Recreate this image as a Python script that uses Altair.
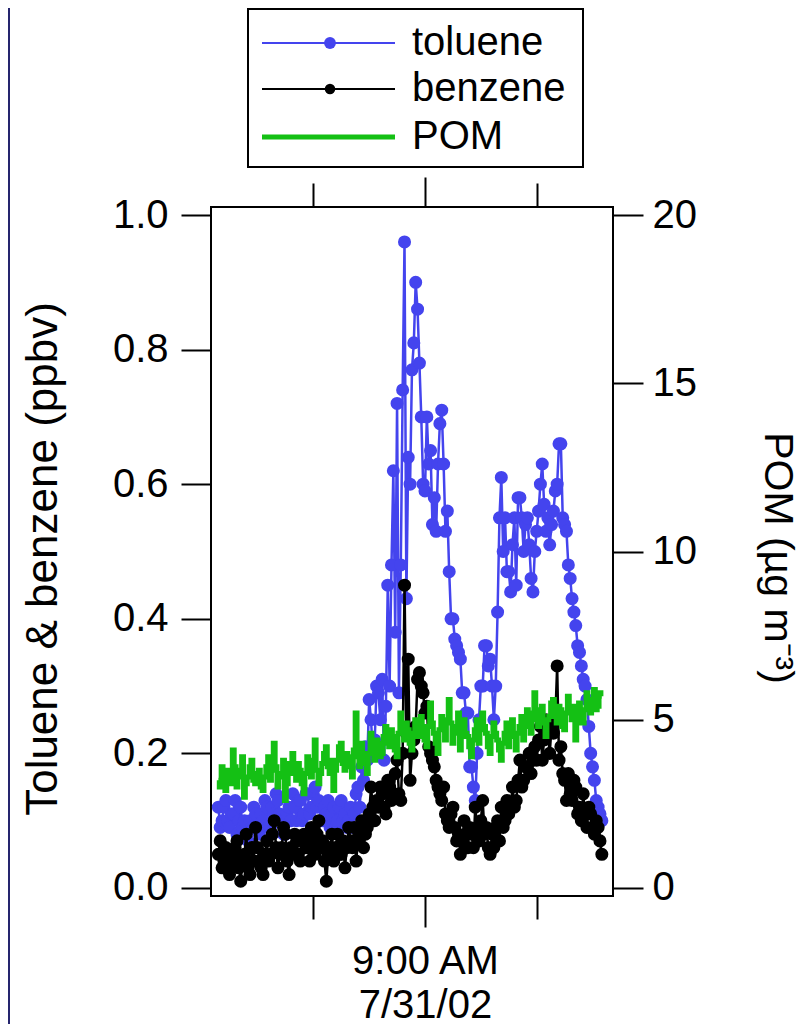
import altair as alt
import pandas as pd

# ---- data (minutes after 8:00 AM, 7/31/02), one reading every 30 s ----
start_min = 4.5
step_min = 0.5

toluene = [
    0.12, 0.09, 0.10, 0.12, 0.13, 0.10, 0.09, 0.11, 0.11, 0.13,
    0.08, 0.10, 0.12, 0.09, 0.10, 0.08, 0.07, 0.10, 0.09, 0.12,
    0.11, 0.09, 0.08, 0.11, 0.10, 0.13, 0.12, 0.09, 0.09, 0.12,
    0.11, 0.14, 0.13, 0.11, 0.10, 0.08, 0.08, 0.11, 0.12, 0.10,
    0.14, 0.12, 0.10, 0.13, 0.13, 0.10, 0.11, 0.14, 0.14, 0.11,
    0.12, 0.14, 0.15, 0.12, 0.13, 0.10, 0.10, 0.12, 0.11, 0.13,
    0.09, 0.11, 0.12, 0.09, 0.10, 0.12, 0.13, 0.10, 0.11, 0.09,
    0.10, 0.12, 0.09, 0.11, 0.14, 0.15, 0.12, 0.18, 0.16, 0.21,
    0.19, 0.28, 0.25, 0.20, 0.22, 0.30, 0.29, 0.25, 0.31, 0.19,
    0.27, 0.45, 0.30, 0.48, 0.62, 0.38, 0.72, 0.29, 0.48, 0.74,
    0.96, 0.43, 0.64, 0.60, 0.77, 0.81, 0.90, 0.86, 0.78, 0.70,
    0.60, 0.59, 0.70, 0.63, 0.65, 0.54, 0.58, 0.53, 0.63, 0.69,
    0.71, 0.63, 0.53, 0.56, 0.47, 0.40, 0.40, 0.37, 0.36, 0.35,
    0.34, 0.29, 0.29, 0.26, 0.26, 0.18, 0.18, 0.15, 0.13, 0.20,
    0.25, 0.30, 0.30, 0.36, 0.36, 0.33, 0.34, 0.30, 0.25, 0.30,
    0.41, 0.55, 0.61, 0.50, 0.55, 0.47, 0.47, 0.44, 0.51, 0.55,
    0.45, 0.58, 0.58, 0.55, 0.50, 0.54, 0.55, 0.51, 0.46, 0.44,
    0.50, 0.53, 0.56, 0.60, 0.63, 0.57, 0.53, 0.55, 0.51, 0.54,
    0.56, 0.59, 0.60, 0.66, 0.66, 0.55, 0.54, 0.53, 0.48, 0.46,
    0.43, 0.41, 0.39, 0.36, 0.35, 0.33, 0.31, 0.30, 0.28, 0.24,
    0.20, 0.18, 0.16, 0.13, 0.12, 0.11, 0.10,
]

benzene = [
    0.05, 0.07, 0.03, 0.04, 0.06, 0.03, 0.02, 0.05, 0.04, 0.06,
    0.07, 0.03, 0.01, 0.04, 0.05, 0.08, 0.03, 0.02, 0.06, 0.04,
    0.09, 0.06, 0.04, 0.03, 0.02, 0.05, 0.07, 0.04, 0.05, 0.08,
    0.10, 0.06, 0.03, 0.05, 0.06, 0.09, 0.08, 0.04, 0.02, 0.06,
    0.05, 0.08, 0.07, 0.05, 0.04, 0.07, 0.08, 0.06, 0.06, 0.04,
    0.09, 0.07, 0.05, 0.08, 0.10, 0.06, 0.07, 0.04, 0.01, 0.05,
    0.06, 0.08, 0.04, 0.06, 0.08, 0.05, 0.05, 0.07, 0.03, 0.06,
    0.09, 0.07, 0.06, 0.09, 0.04, 0.07, 0.08, 0.10, 0.06, 0.08,
    0.09, 0.11, 0.15, 0.12, 0.10, 0.13, 0.12, 0.15, 0.14, 0.12,
    0.11, 0.16, 0.15, 0.13, 0.14, 0.17, 0.19, 0.14, 0.13, 0.20,
    0.45, 0.23, 0.34, 0.16, 0.20, 0.22, 0.24, 0.31, 0.32, 0.30,
    0.29, 0.26, 0.27, 0.21, 0.20, 0.19, 0.18, 0.16, 0.15, 0.14,
    0.13, 0.15, 0.11, 0.10, 0.09, 0.11, 0.12, 0.09, 0.07, 0.08,
    0.05, 0.07, 0.10, 0.08, 0.06, 0.09, 0.08, 0.06, 0.12, 0.09,
    0.07, 0.10, 0.13, 0.08, 0.09, 0.06, 0.05, 0.08, 0.06, 0.09,
    0.10, 0.07, 0.12, 0.09, 0.10, 0.13, 0.11, 0.12, 0.15, 0.12,
    0.13, 0.16, 0.19, 0.15, 0.16, 0.18, 0.18, 0.20, 0.17, 0.19,
    0.21, 0.19, 0.22, 0.24, 0.19, 0.22, 0.25, 0.23, 0.20, 0.24,
    0.23, 0.25, 0.33, 0.19, 0.21, 0.17, 0.16, 0.13, 0.17, 0.14,
    0.13, 0.16, 0.15, 0.11, 0.12, 0.10, 0.14, 0.11, 0.09, 0.12,
    0.11, 0.09, 0.08, 0.10, 0.09, 0.07, 0.05,
]

pom = [
    3.2, 3.0, 3.6, 3.3, 2.9, 3.5, 3.4, 3.1, 4.1, 3.6,
    3.0, 3.3, 3.5, 3.9, 2.7, 3.1, 3.3, 3.6, 3.8, 3.2,
    3.1, 3.4, 3.5, 3.0, 2.9, 3.3, 3.6, 3.9, 3.2, 3.5,
    4.3, 3.6, 3.0, 3.3, 3.4, 3.8, 2.6, 3.1, 3.7, 3.4,
    4.0, 3.6, 3.2, 3.7, 3.5, 3.1, 2.8, 3.4, 3.9, 3.6,
    3.3, 3.8, 4.4, 3.5, 3.1, 3.4, 3.7, 4.0, 4.2, 3.6,
    3.4, 3.8, 2.9, 3.5, 3.8, 4.2, 4.3, 3.7, 3.5, 4.0,
    3.9, 3.6, 3.3, 4.1, 5.2, 3.9, 3.6, 4.3, 4.0, 3.7,
    3.4, 4.0, 4.6, 4.1, 3.8, 4.4, 4.3, 3.9, 4.0, 4.5,
    4.8, 4.3, 4.2, 4.7, 4.5, 4.1, 3.9, 4.6, 5.2, 4.7,
    4.4, 4.9, 4.7, 4.3, 4.1, 4.6, 5.0, 4.5, 4.5, 5.1,
    4.8, 4.4, 4.2, 4.8, 5.5, 4.9, 4.6, 4.3, 4.0, 4.7,
    5.1, 4.7, 4.4, 5.0, 5.6, 4.9, 4.3, 4.6, 4.8, 5.2,
    4.1, 4.5, 5.0, 4.6, 4.5, 4.2, 3.9, 4.4, 4.7, 5.0,
    4.3, 4.7, 5.2, 4.8, 4.6, 4.2, 4.0, 4.5, 4.9, 4.6,
    4.4, 4.1, 3.8, 4.3, 4.6, 4.9, 4.2, 4.7, 5.0, 4.5,
    4.1, 4.6, 4.8, 5.1, 4.4, 4.9, 5.3, 4.8, 4.6, 5.2,
    5.8, 5.0, 4.8, 5.3, 5.4, 4.9, 4.5, 5.0, 5.1, 5.5,
    5.6, 5.1, 4.9, 5.4, 5.3, 4.8, 4.7, 5.2, 5.7, 5.3,
    5.0, 5.4, 4.4, 4.9, 5.5, 5.1, 4.9, 5.3, 5.8, 5.4,
    5.2, 5.6, 5.9, 5.3, 5.4, 5.8, 5.7,
]

minutes = [start_min + i * step_min for i in range(len(toluene))]

x_ticks = [30, 60, 90]
left_ticks = [0.0, 0.2, 0.4, 0.6, 0.8, 1.0]
right_ticks = [0, 5, 10, 15, 20]
legend_labels = ["toluene", "benzene", "POM"]
x_label_lines = ["9:00 AM", "7/31/02"]

df = pd.DataFrame({"t": minutes, "toluene": toluene, "benzene": benzene, "pom": pom})
one = pd.DataFrame({"k": [0]})

FONT = "Liberation Sans"
BLUE = "#4444ee"
BLACK = "#000000"
GREEN = "#14c014"

W, H = 402, 689
x_dom = [2.52, 110.5]
yl_dom = [-0.0119, 1.0119]
yr_dom = [-0.238, 20.238]

xs = alt.Scale(domain=x_dom, nice=False, zero=False)
yls = alt.Scale(domain=yl_dom, nice=False, zero=False)
yrs = alt.Scale(domain=yr_dom, nice=False, zero=False)

major_test = "datum.value === 60"
label_expr = "datum.value === 60 ? ['%s', '%s'] : ''" % (x_label_lines[0], x_label_lines[1])

bottom_axis = alt.Axis(
    orient="bottom", values=x_ticks, labelExpr=label_expr, title=None,
    tickSize={"condition": {"test": major_test, "value": 31}, "value": 23},
    tickWidth=2, tickColor="black", domain=False, grid=False,
    labelFont=FONT, labelFontSize=40, labelColor="black", labelPadding=14,
    labelLineHeight=44, labelBaseline="top", labelAlign="center",
)
top_axis = alt.Axis(
    orient="top", values=x_ticks, labels=False, title=None,
    tickSize={"condition": {"test": major_test, "value": 30}, "value": 24},
    tickWidth=2, tickColor="black", domain=False, grid=False,
)
left_axis = alt.Axis(
    orient="left", values=left_ticks, format=".1f", title="Toluene & benzene (ppbv)",
    tickSize=30, tickWidth=2, tickColor="black", domain=False, grid=False,
    labelFont=FONT, labelFontSize=40, labelColor="black", labelPadding=13,
    titleFont=FONT, titleFontSize=44, titleFontWeight="normal", titleColor="black",
    titleX=-155, titleY=H / 2 + 7, titleAngle=-90, titleBaseline="alphabetic", titleAlign="center",
)
right_axis = alt.Axis(
    orient="right", values=right_ticks, format="d", title="POM (µg m⁻³)",
    tickSize=30, tickWidth=2, tickColor="black", domain=False, grid=False,
    labelFont=FONT, labelFontSize=40, labelColor="black", labelPadding=9,
    titleFont=FONT, titleFontSize=41, titleFontWeight="normal", titleColor="black",
    titleX=151, titleY=H / 2 + 6, titleAngle=90, titleBaseline="alphabetic", titleAlign="center",
)

base = alt.Chart(df)

tol_line = base.mark_line(color=BLUE, strokeWidth=2.5).encode(
    x=alt.X("t:Q", scale=xs, axis=bottom_axis),
    y=alt.Y("toluene:Q", scale=yls, axis=left_axis),
)
tol_pts = base.mark_point(filled=True, size=170, color=BLUE, opacity=1).encode(
    x=alt.X("t:Q", scale=xs, axis=None),
    y=alt.Y("toluene:Q", scale=yls, axis=None),
)
ben_line = base.mark_line(color=BLACK, strokeWidth=2.5).encode(
    x=alt.X("t:Q", scale=xs, axis=None),
    y=alt.Y("benzene:Q", scale=yls, axis=None),
)
ben_pts = base.mark_point(filled=True, size=170, color=BLACK, opacity=1).encode(
    x=alt.X("t:Q", scale=xs, axis=None),
    y=alt.Y("benzene:Q", scale=yls, axis=None),
)
pom_line = base.mark_line(color=GREEN, strokeWidth=5, interpolate="step").encode(
    x=alt.X("t:Q", scale=xs, axis=top_axis),
    y=alt.Y("pom:Q", scale=yrs, axis=right_axis),
)

# decorative side strip
strip = alt.Chart(one).mark_rect(fill="#25256e").encode(
    x=alt.value(-203), x2=alt.value(-201), y=alt.value(-199), y2=alt.value(817)
)

# legend box
leg_box = alt.Chart(one).mark_rect(fill="white", stroke="black", strokeWidth=2).encode(
    x=alt.value(37), x2=alt.value(372), y=alt.value(-198), y2=alt.value(-40)
)
leg_rows = [(-164, -152, BLUE, 2, True), (-118, -106, BLACK, 2, True), (-70, -58, GREEN, 5, False)]
leg_layers = [leg_box]
for (ly, ty, col, sw, dot), lab in zip(leg_rows, legend_labels):
    leg_layers.append(alt.Chart(one).mark_rule(color=col, strokeWidth=sw).encode(
        x=alt.value(51), x2=alt.value(184), y=alt.value(ly)))
    if dot:
        leg_layers.append(alt.Chart(one).mark_point(filled=True, size=140 if col == BLUE else 110,
                                                    color=col, opacity=1).encode(
            x=alt.value(119), y=alt.value(ly)))
    leg_layers.append(alt.Chart(one).mark_text(align="left", baseline="alphabetic", font=FONT,
                                               fontSize=40, color="black").encode(
        x=alt.value(201), y=alt.value(ty), text=alt.value(lab)))

chart = alt.layer(
    strip, tol_line, tol_pts, ben_line, ben_pts, pom_line, *leg_layers
).resolve_scale(
    x="independent", y="independent"
).properties(
    width=W, height=H,
    autosize=alt.AutoSizeParams(type="none"),
    padding={"left": 203, "top": 199, "right": 189, "bottom": 128},
    background="white",
).configure_view(
    stroke="black", strokeWidth=2
)

chart.save("out.html", embed_options={"renderer": "svg", "actions": False})
